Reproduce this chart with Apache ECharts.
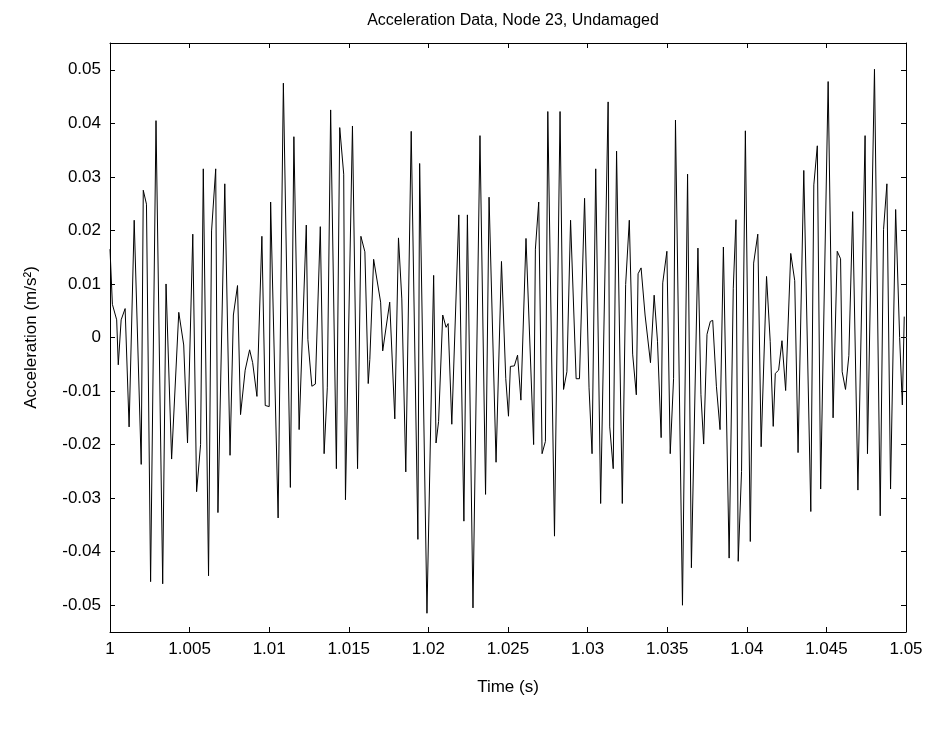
<!DOCTYPE html>
<html>
<head>
<meta charset="utf-8">
<script src="https://cdn.jsdelivr.net/npm/echarts@6/dist/echarts.min.js"></script>
<style>
  html, body { margin: 0; padding: 0; background: #fff; }
  #chart { width: 928px; height: 747px; }
</style>
</head>
<body>
<div id="chart"></div>
<script>
// Acceleration trace, node 23 (undamaged) - vertices
const timeValues = [
  1.00000, 1.00015, 1.00042, 1.00052, 1.00070, 1.00095, 1.00120, 1.00152, 1.00196, 1.00209,
  1.00229, 1.00255, 1.00289, 1.00331, 1.00352, 1.00387, 1.00432, 1.00463, 1.00487, 1.00520,
  1.00544, 1.00569, 1.00586, 1.00619, 1.00638, 1.00664, 1.00678, 1.00721, 1.00754, 1.00775,
  1.00801, 1.00820, 1.00849, 1.00877, 1.00896, 1.00923, 1.00954, 1.00975, 1.01000, 1.01009,
  1.01056, 1.01089, 1.01133, 1.01155, 1.01188, 1.01233, 1.01243, 1.01268, 1.01290, 1.01321,
  1.01345, 1.01365, 1.01386, 1.01422, 1.01443, 1.01468, 1.01479, 1.01523, 1.01555, 1.01576,
  1.01601, 1.01622, 1.01632, 1.01656, 1.01700, 1.01713, 1.01757, 1.01789, 1.01812, 1.01833,
  1.01858, 1.01892, 1.01934, 1.01945, 1.01991, 1.02033, 1.02048, 1.02064, 1.02090, 1.02111,
  1.02124, 1.02147, 1.02191, 1.02223, 1.02245, 1.02280, 1.02324, 1.02359, 1.02381, 1.02425,
  1.02459, 1.02486, 1.02503, 1.02515, 1.02540, 1.02560, 1.02581, 1.02613, 1.02661, 1.02672,
  1.02693, 1.02714, 1.02735, 1.02750, 1.02792, 1.02827, 1.02849, 1.02870, 1.02893, 1.02928,
  1.02949, 1.02981, 1.03009, 1.03028, 1.03051, 1.03082, 1.03129, 1.03139, 1.03161, 1.03182,
  1.03218, 1.03239, 1.03262, 1.03283, 1.03306, 1.03317, 1.03336, 1.03361, 1.03395, 1.03418,
  1.03439, 1.03462, 1.03472, 1.03498, 1.03519, 1.03540, 1.03552, 1.03596, 1.03628, 1.03652,
  1.03693, 1.03712, 1.03729, 1.03750, 1.03771, 1.03786, 1.03809, 1.03832, 1.03853, 1.03889,
  1.03915, 1.03932, 1.03946, 1.03967, 1.03991, 1.04022, 1.04043, 1.04069, 1.04090, 1.04124,
  1.04147, 1.04166, 1.04179, 1.04200, 1.04221, 1.04244, 1.04276, 1.04301, 1.04322, 1.04358,
  1.04402, 1.04421, 1.04443, 1.04464, 1.04511, 1.04542, 1.04568, 1.04589, 1.04599, 1.04620,
  1.04641, 1.04665, 1.04698, 1.04743, 1.04758, 1.04802, 1.04838, 1.04859, 1.04880, 1.04903,
  1.04935, 1.04960, 1.04977, 1.04989
];

const accelValues = [
  0.0165, 0.0062, 0.0033, -0.0051, 0.0033, 0.0054, -0.0167, 0.0219, -0.0237, 0.0275,
  0.0249, -0.0456, 0.0405, -0.0460, 0.0100, -0.0227, 0.0047, -0.0014, -0.0197, 0.0193,
  -0.0288, -0.0200, 0.0315, -0.0445, 0.0199, 0.0315, -0.0327, 0.0287, -0.0220, 0.0042,
  0.0097, -0.0144, -0.0061, -0.0023, -0.0047, -0.0110, 0.0189, -0.0127, -0.0129, 0.0253,
  -0.0337, 0.0475, -0.0280, 0.0375, -0.0172, 0.0210, -0.0004, -0.0091, -0.0087, 0.0207,
  -0.0217, -0.0094, 0.0425, -0.0245, 0.0392, 0.0305, -0.0303, 0.0395, -0.0245, 0.0189,
  0.0160, -0.0086, -0.0041, 0.0146, 0.0066, -0.0025, 0.0066, -0.0152, 0.0186, 0.0072,
  -0.0251, 0.0385, -0.0377, 0.0325, -0.0515, 0.0116, -0.0197, -0.0157, 0.0042, 0.0019,
  0.0026, -0.0162, 0.0229, -0.0343, 0.0229, -0.0505, 0.0377, -0.0293, 0.0262, -0.0233,
  0.0142, -0.0077, -0.0147, -0.0054, -0.0053, -0.0033, -0.0117, 0.0185, -0.0200, 0.0165,
  0.0253, -0.0217, -0.0194, 0.0422, -0.0371, 0.0422, -0.0097, -0.0064, 0.0219, -0.0077,
  -0.0077, 0.0260, -0.0094, -0.0217, 0.0315, -0.0310, 0.0440, -0.0167, -0.0245, 0.0348,
  -0.0310, 0.0099, 0.0219, -0.0031, -0.0107, 0.0119, 0.0130, 0.0042, -0.0047, 0.0079,
  -0.0007, -0.0187, 0.0102, 0.0161, -0.0217, -0.0077, 0.0406, -0.0500, 0.0305, -0.0430,
  0.0167, -0.0107, -0.0199, 0.0006, 0.0030, 0.0032, -0.0091, -0.0172, 0.0169, -0.0412,
  0.0092, 0.0220, -0.0418, -0.0250, 0.0386, -0.0381, 0.0139, 0.0193, -0.0204, 0.0114,
  -0.0007, -0.0166, -0.0067, -0.0061, -0.0006, -0.0099, 0.0157, 0.0106, -0.0215, 0.0312,
  -0.0325, 0.0285, 0.0358, -0.0283, 0.0478, -0.0150, 0.0161, 0.0147, -0.0064, -0.0097,
  -0.0034, 0.0235, -0.0285, 0.0377, -0.0217, 0.0501, -0.0333, 0.0202, 0.0287, -0.0283,
  0.0239, 0.0000, -0.0126, 0.0039
];

const xTicks = [1, 1.005, 1.01, 1.015, 1.02, 1.025, 1.03, 1.035, 1.04, 1.045, 1.05];
const yTicks = [-0.05, -0.04, -0.03, -0.02, -0.01, 0, 0.01, 0.02, 0.03, 0.04, 0.05];

const FONT = 'Liberation Sans, Arial, Helvetica, sans-serif';

const seriesData = timeValues.map((t, i) => [t, accelValues[i]]);

const fmtX = (v) => String(Math.round(v * 1000) / 1000);
const fmtY = (v) => String(Math.round(v * 100) / 100);

// MATLAB-like boxed axes: ticks inside on all four sides
function frameAxis(extra) {
  return Object.assign({
    type: 'value',
    axisLine: { show: true, onZero: false, lineStyle: { color: '#000', width: 1 } },
    splitLine: { show: false },
  }, extra);
}

const chart = echarts.init(document.getElementById('chart'));

chart.setOption({
  animation: false,
  backgroundColor: '#fff',
  title: {
    text: 'Acceleration Data, Node 23, Undamaged',
    left: 508,
    top: 8,
    textAlign: 'center',
    textStyle: { fontFamily: FONT, fontSize: 16, fontWeight: 'normal', color: '#000' },
  },
  grid: { left: 110, right: 22, top: 43, bottom: 115, containLabel: false },
  xAxis: [
    frameAxis({
      position: 'bottom',
      min: 1,
      max: 1.05,
      axisTick: { inside: true, length: 5, customValues: xTicks, lineStyle: { color: '#000' } },
      axisLabel: {
        customValues: xTicks,
        formatter: fmtX,
        margin: 9,
        fontFamily: FONT,
        fontSize: 17,
        color: '#000',
        hideOverlap: false,
      },
      name: 'Time (s)',
      nameLocation: 'middle',
      nameGap: 47,
      nameTextStyle: { fontFamily: FONT, fontSize: 17, color: '#000' },
    }),
    frameAxis({
      position: 'top',
      min: 1,
      max: 1.05,
      axisTick: { inside: true, length: 5, customValues: xTicks, lineStyle: { color: '#000' } },
      axisLabel: { show: false },
    }),
  ],
  yAxis: [
    frameAxis({
      position: 'left',
      min: -0.055,
      max: 0.055,
      axisTick: { inside: true, length: 5, customValues: yTicks, lineStyle: { color: '#000' } },
      axisLabel: {
        customValues: yTicks,
        formatter: fmtY,
        margin: 9,
        fontFamily: FONT,
        fontSize: 17,
        color: '#000',
        hideOverlap: false,
      },
      name: 'Acceleration (m/s²)',
      nameLocation: 'middle',
      nameRotate: 90,
      nameGap: 70,
      nameTextStyle: { fontFamily: FONT, fontSize: 17, color: '#000' },
    }),
    frameAxis({
      position: 'right',
      min: -0.055,
      max: 0.055,
      axisTick: { inside: true, length: 5, customValues: yTicks, lineStyle: { color: '#000' } },
      axisLabel: { show: false },
    }),
  ],
  series: [
    {
      type: 'line',
      xAxisIndex: 0,
      yAxisIndex: 0,
      data: seriesData,
      showSymbol: false,
      symbol: 'none',
      lineStyle: { color: '#000', width: 1 },
      z: 3,
    },
  ],
});
</script>
</body>
</html>
